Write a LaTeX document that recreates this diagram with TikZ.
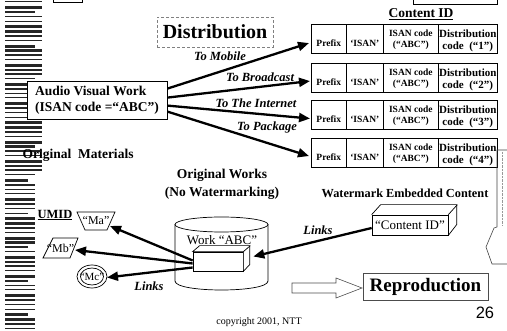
\documentclass[tikz,border=0pt]{standalone}
\usepackage{fontspec}
\setmainfont{Liberation Serif}
\newfontfamily\pagenumfont{Liberation Sans}
\usetikzlibrary{arrows.meta,calc}

\tikzset{
  heading/.style={font=\fontsize{20}{24}\selectfont\bfseries, inner sep=0pt},
  boldtext/.style={font=\fontsize{13.5}{18}\selectfont\bfseries, inner sep=0pt},
  roadlabel/.style={font=\fontsize{12.5}{14}\selectfont\bfseries\itshape, inner sep=0pt},
  celltxt/.style={font=\fontsize{9.5}{11}\selectfont\bfseries, inner sep=0pt},
  disttxt/.style={font=\fontsize{11}{12}\selectfont\bfseries, inner sep=0pt},
  umidtxt/.style={font=\fontsize{12}{13}\selectfont, inner sep=0pt},
  cellbox/.style={draw, line width=0.6pt, minimum height=29.5pt, inner sep=0pt, anchor=north west},
  fatarrow/.style={line width=2.3pt, -{Triangle[length=11pt,width=9pt]}},
  outline/.style={line width=0.7pt},
}

\begin{document}
\begin{tikzpicture}[x=1pt,y=-1pt]
\useasboundingbox (0,0) rectangle (507,331);

% striped margin on the left (narrower further down)
\foreach \i in {0,...,68} {
  \pgfmathsetmacro\yy{1.5+\i*4.8}
  \pgfmathsetmacro\hh{0.9+0.7*mod(\i*7,4)}
  \pgfmathsetmacro\xr{(\yy<172 ? 42 : 35)-7*(mod(\i*5,7)==3)}
  \fill[black!85] (5,\yy) rectangle (\xr,\yy+\hh);
}

% cut-off items along the top edge
\draw[outline] (53,-5) rectangle (82,2);
\draw[outline, fill=white] (413,-5) rectangle (497,4);
\draw[gray, line width=0.6pt, double, double distance=1.2pt] (187,6) -- (497,6);

% distribution heading
\node[heading, draw=gray, densely dashed, line width=0.7pt,
      minimum width=116pt, minimum height=30pt] (distbox) at (215,32) {Distribution};

\node[font=\fontsize{13.5}{15}\selectfont\bfseries, inner sep=0pt] (cidtitle) at (421,14) {\underline{Content ID}};

% content ID records
\foreach \r/\top/\n in {1/24/1,2/63/2,3/100/3,4/138/4} {
  \node[cellbox, minimum width=35pt] (pre\r) at (311,\top) {};
  \node[cellbox, minimum width=37pt] (isan\r) at (346,\top) {};
  \node[cellbox, minimum width=55pt] (code\r) at (383,\top) {};
  \node[cellbox, minimum width=59pt] (dist\r) at (438,\top) {};
  \node[celltxt] (pretxt\r) at ($(pre\r.center)+(0,4)$) {Prefix};
  \node[celltxt] (isantxt\r) at ($(isan\r.center)+(0,4)$) {‘ISAN’};
  \node[celltxt] (codetxtA\r) at ($(code\r.center)+(0,-5.5)$) {ISAN code};
  \node[celltxt] (codetxtB\r) at ($(code\r.center)+(0,6.5)$) {(“ABC”)};
  \node[disttxt] (disttxtA\r) at ($(dist\r.center)+(0,-5.5)$) {Distribution};
  \node[disttxt] (disttxtB\r) at ($(dist\r.center)+(0,7.5)$) {code~ (“\n”)};
}

% audio visual work
\node[draw, fill=white, line width=0.8pt, minimum width=140pt, minimum height=38pt,
      inner sep=4pt, align=left, font=\fontsize{13.5}{16}\selectfont\bfseries]
      (av) at (97,100) {Audio Visual Work\\(ISAN code =“ABC”)};

\draw[fatarrow] ($(av.north east)+(0,8)$)  -- ($(pre1.west)+(-2,4)$);
\draw[fatarrow] ($(av.north east)+(0,17)$) -- ($(pre2.west)+(-1,3)$);
\draw[fatarrow] ($(av.north east)+(0,25)$) -- ($(pre3.west)+(-1,3.5)$);
\draw[fatarrow] ($(av.north east)+(0,31)$) -- ($(pre4.west)+(-2,3)$);

\node[roadlabel] (lmobile) at (220,56) {To Mobile};
\node[roadlabel] (lbroad) at (260,77) {To Broadcast};
\node[roadlabel] (lnet) at (256,103) {To The Internet};
\node[roadlabel] (lpack) at (267,127) {To Package};

% lower half
\node[boldtext] (origmat) at (78,155) {Original~ Materials};
\node[font=\fontsize{13.5}{18}\selectfont\bfseries, align=center, inner sep=0pt]
      (origworks) at (222,184) {Original Works\\(No Watermarking)};
\node[font=\fontsize{12.3}{14}\selectfont\bfseries, inner sep=0pt] (wmtitle) at (405,193) {Watermark Embedded Content};

\node[font=\fontsize{12.5}{14}\selectfont\bfseries, inner sep=0pt] (umid) at (55,215) {\underline{UMID}};

% UMID materials
\draw[outline] (77,212) -- (115,212) -- (107,230) -- (85,230) -- cycle;
\node[umidtxt] (ma) at (96,221) {“Ma”};
\draw[outline] (43,258) -- (53,238) -- (78,238) -- (70,258) -- cycle;
\node[umidtxt] (mb) at (60.5,248) {“Mb”};
\draw[outline] (92,276.5) ellipse[x radius=15, y radius=11.5];
\draw[outline] (92,276.5) ellipse[x radius=11.5, y radius=8.5];
\node[font=\fontsize{11}{12}\selectfont, inner sep=0pt] (mc) at (92,276.5) {“Mc”};

% database cylinder
\draw[outline, fill=white] (175,224.5) -- (175,281) .. controls (175,293) and (268,293) .. (268,281) -- (268,224.5);
\draw[outline] (221.5,224.5) ellipse[x radius=46.5, y radius=7.5];
\node[font=\fontsize{13}{15}\selectfont, inner sep=0pt] (worktxt) at (222,240.5) {Work “ABC”};

% work block inside the cylinder
\node[draw, outline, fill=white, minimum width=50pt, minimum height=19pt, inner sep=0pt] (wbox) at (218,261.5) {};
\draw[outline, fill=white] (wbox.north west) -- ++(7,-6) -- ++(50,0) -- ++(0,19) -- (wbox.south east) -- (wbox.north east) -- cycle;
\draw[outline] (wbox.north east) -- ++(7,-6);

\draw[fatarrow] ($(wbox.west)+(0,-1)$) -- ($(ma)+(14,5)$);
\draw[fatarrow] ($(wbox.west)+(0,2)$)  -- ($(mb)+(14.5,2)$);
\draw[fatarrow] ($(wbox.west)+(0,6)$)  -- ($(mc)+(15,1)$);
\node[roadlabel] (llinksA) at (149,286) {Links};

% watermarked content block
\node[draw, outline, fill=white, minimum width=76pt, minimum height=20pt, inner sep=0pt,
      font=\fontsize{13}{15}\selectfont] (cid) at (410,225) {“Content ID”};
\draw[outline] (cid.north west) -- ++(9,-10) -- ++(76,0) -- ++(0,20) -- (cid.south east);
\draw[outline] (cid.north east) -- ++(9,-10);

\draw[fatarrow] ($(cid.west)+(0,3)$) -- ($(wbox.east)+(10,-5)$);
\node[roadlabel] (llinksB) at (318,230) {Links};

% reproduction
\draw[black!70, line width=0.6pt] (292,283) -- (336,283) -- (336,278) -- (362,288) -- (336,298) -- (336,293) -- (292,293) -- cycle;
\node[draw=black!70, line width=0.6pt, minimum width=125pt, minimum height=27pt,
      font=\fontsize{19}{22}\selectfont\bfseries] (repro) at (425.5,286.5) {Reproduction};

% block arrow at the right edge
\draw[black!75, line width=0.6pt] (507,150) -- (497,150) -- (497,227) -- (494,228) -- (486,247) -- (492,264) -- (507,264);
\draw[black!40, densely dotted, line width=0.4pt] (502,152) -- (502,226);

\node[font=\pagenumfont\fontsize{16.5}{18}\selectfont, inner sep=0pt] (pagenum) at (485,313) {26};
\node[font=\fontsize{10}{12}\selectfont, inner sep=0pt] (copy) at (259,322) {copyright 2001, NTT};

\end{tikzpicture}
\end{document}
